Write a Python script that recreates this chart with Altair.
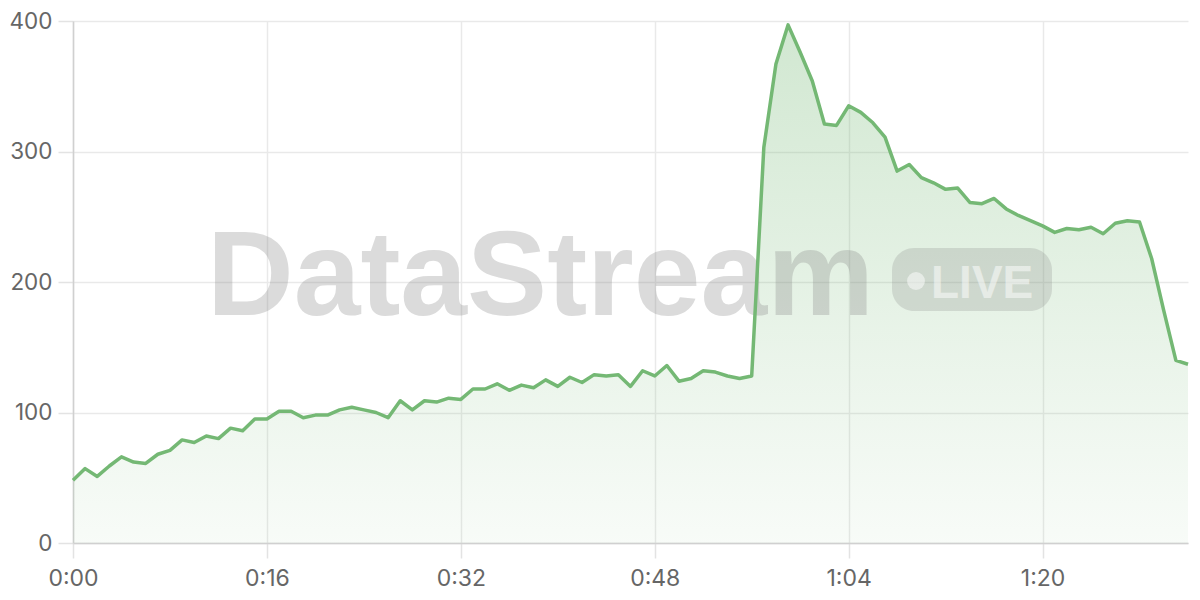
import altair as alt
import pandas as pd

seconds = list(range(93))
values = [48, 57, 51, 59, 66, 62, 61, 68, 71, 79, 77, 82, 80, 88, 86, 95, 95, 101, 101, 96,
          98, 98, 102, 104, 102, 100, 96, 109, 102, 109, 108, 111, 110, 118, 118, 122, 117, 121,
          119, 125, 120, 127, 123, 129, 128, 129, 120, 132, 128, 136, 124, 126, 132, 131, 128,
          126, 128, 303, 367, 397, 376, 354, 321, 320, 335, 330, 322, 311, 285, 290, 280, 276,
          271, 272, 261, 260, 264, 256, 251, 247, 243, 238, 241, 240, 242, 237, 245, 247, 246,
          218, 178, 140, 137]
x_ticks = [0, 16, 32, 48, 64, 80]
y_ticks = [0, 100, 200, 300, 400]
watermark = ["DataStream"]
badge = ["LIVE"]

df = pd.DataFrame({"t": seconds, "v": values})

GREEN = "#74b874"
W, H = 1115, 522

x_enc = alt.X("t:Q", scale=alt.Scale(domain=[0, 92], nice=False),
              axis=alt.Axis(values=x_ticks, title=None, labelFlush=False, labelPadding=9,
                            labelExpr="floor(datum.value/60) + ':' + (datum.value % 60 < 10 ? '0' : '') + (datum.value % 60)"))
y_enc = alt.Y("v:Q", scale=alt.Scale(domain=[0, 400], nice=False),
              axis=alt.Axis(values=y_ticks, title=None, labelFlush=False, labelPadding=6,
                            labelFontSize=22.5))

base = alt.Chart(df)

area = base.mark_area(
    color=alt.Gradient(
        gradient="linear",
        stops=[alt.GradientStop(color="rgba(116,184,116,0.05)", offset=0),
               alt.GradientStop(color="rgba(116,184,116,0.33)", offset=1)],
        x1=1, x2=1, y1=1, y2=0),
    interpolate="linear"
).encode(x=x_enc, y=y_enc)

line = base.mark_line(color=GREEN, strokeWidth=3.5, strokeJoin="round").encode(x=x_enc, y=y_enc)

wm_text = alt.Chart(pd.DataFrame({"label": watermark})).mark_text(
    font="Liberation Sans", fontWeight="bold", fontSize=120, align="left",
    baseline="alphabetic", color="#808080", opacity=0.28
).encode(text="label:N", x=alt.value(134), y=alt.value(294))

badge_rect = alt.Chart(pd.DataFrame({"label": badge})).mark_rect(
    color="#808080", opacity=0.23, cornerRadius=22
).encode(x=alt.value(819), x2=alt.value(979), y=alt.value(227), y2=alt.value(290))

badge_dot = alt.Chart(pd.DataFrame({"label": badge})).mark_circle(
    color="white", opacity=0.5, size=320
).encode(x=alt.value(843), y=alt.value(260))

badge_text = alt.Chart(pd.DataFrame({"label": badge})).mark_text(
    font="Liberation Sans", fontWeight="bold", fontSize=46, align="left", baseline="alphabetic",
    color="white", opacity=0.5
).encode(text="label:N", x=alt.value(858), y=alt.value(277))

chart = alt.layer(area, wm_text, badge_rect, badge_dot, badge_text, line).properties(
    width=W, height=H,
    autosize=alt.AutoSizeParams(type="none"),
    padding={"left": 65, "top": 13, "right": 4, "bottom": 49},
    background="white"
).configure_view(stroke=None).configure_axis(
    labelFont="Inter", labelFontSize=23, labelColor="#666666",
    gridColor="#e9e9e9", gridWidth=1.5,
    domainColor="#d0d0d0", domainWidth=1.5,
    tickColor="#e3e3e3", tickSize=15, tickWidth=1.5
)

chart.save("out.html", embed_options={"renderer": "svg", "actions": False})
